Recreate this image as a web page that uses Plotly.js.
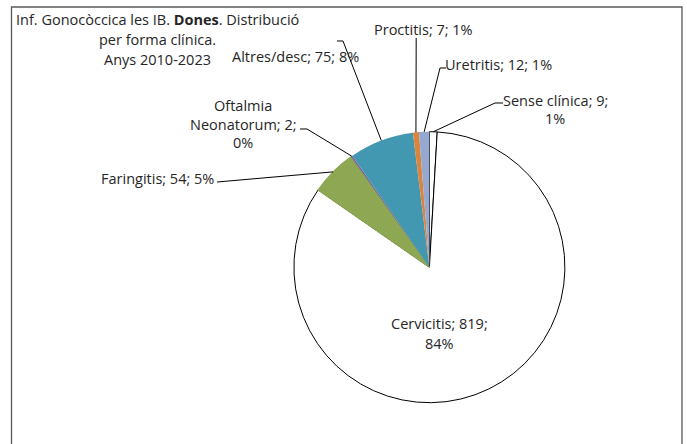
<!DOCTYPE html>
<html>
<head>
<meta charset="utf-8">
<script src="https://cdn.plot.ly/plotly-3.0.1.min.js"></script>
<style>
  html, body { margin: 0; padding: 0; background: #fff; }
  #chart { width: 687px; height: 444px; }
</style>
</head>
<body>
<div id="chart"></div>
<script>
// ---- Data ----
const categories = ['Sense clínica', 'Cervicitis', 'Faringitis', 'Oftalmia Neonatorum', 'Altres/desc', 'Proctitis', 'Uretritis'];
const counts = [9, 819, 54, 2, 75, 7, 12];
const percents = [1, 84, 5, 0, 8, 1, 1];
const titleLines = ['Inf. Gonocòccica les IB. <b>Dones</b>. Distribució', 'per forma clínica.', 'Anys 2010-2023'];

// ---- Styles / layout ----
const W = 687, H = 444;
const sliceColors = ['#ffffff', '#ffffff', '#8DA753', '#7F62A0', '#4298B0', '#DB843D', '#94A8D0'];
const lineColors = ['#000000', '#000000', '#8DA753', '#7F62A0', '#4298B0', '#DB843D', '#94A8D0'];
const lineWidths = [1, 1, 1.2, 0, 0, 0, 0];
const FONT = {family: 'Open Sans, Noto Sans, sans-serif', size: 14.5, color: '#262626'};

// pie geometry in pixels
const CX = 429.4, CY = 267.2, R = 135.5;

// label layout: token index where a new line starts, center x, first line y, line spacing
const labelSpec = [
  {breaks: [3], x: 555, y: 100, dy: 18.5, leader: [[503, 103], [495, 103]]},
  {breaks: [2], x: 439.5, y: 323.3, dy: 19.7, leader: null},
  {breaks: [], x: 157, y: 178, dy: 19, leader: [[217, 182]]},
  {breaks: [1, 3], x: 243, y: 105, dy: 19, leader: [[300, 129], [307, 129]]},
  {breaks: [], x: 295.5, y: 56.5, dy: 19, leader: [[337, 41], [343, 41]]},
  {breaks: [], x: 423.5, y: 29.5, dy: 19, leader: [[416.2, 38]]},
  {breaks: [], x: 498.5, y: 65, dy: 19, leader: [[446, 68], [440, 68]]}
];

const px = x => x / W;
const py = y => 1 - y / H;

const total = counts.reduce((a, b) => a + b, 0);

const annotations = [];
const shapes = [];

function addText(text, x, y) {
  annotations.push({
    text: text, xref: 'paper', yref: 'paper', x: px(x), y: py(y),
    xanchor: 'center', yanchor: 'middle', showarrow: false, font: FONT, align: 'center'
  });
}

// title lines
const titleY = [20, 40, 59.5];
titleLines.forEach((t, i) => addText(t, 157, titleY[i]));

// slice labels and leader lines
let cum = 0;
categories.forEach((cat, i) => {
  const mid = (cum + counts[i] / 2) / total * 2 * Math.PI;
  cum += counts[i];
  const ex = CX + R * Math.sin(mid);
  const ey = CY - R * Math.cos(mid);
  const tokens = (cat + '; ' + counts[i] + '; ' + percents[i] + '%').split(' ');
  const spec = labelSpec[i];
  const lines = [];
  let cur = [];
  tokens.forEach((tk, k) => {
    if (spec.breaks.includes(k) && cur.length) { lines.push(cur.join(' ')); cur = []; }
    cur.push(tk);
  });
  lines.push(cur.join(' '));
  lines.forEach((ln, k) => addText(ln, spec.x, spec.y + k * spec.dy));
  if (spec.leader) {
    const pts = spec.leader.concat([[ex, ey]]);
    const path = pts.map((p, k) => (k ? 'L' : 'M') + px(p[0]).toFixed(5) + ',' + py(p[1]).toFixed(5)).join(' ');
    shapes.push({type: 'path', xref: 'paper', yref: 'paper', path: path, line: {color: '#000000', width: 1}});
  }
});

// chart-area border (bottom edge lies outside the picture)
shapes.push({type: 'rect', xref: 'paper', yref: 'paper', x0: px(11.5), x1: px(682), y0: -0.02, y1: py(7),
  line: {color: '#595959', width: 1.3}, fillcolor: 'rgba(0,0,0,0)'});

const trace = {
  type: 'pie',
  labels: categories,
  values: counts,
  sort: false,
  direction: 'clockwise',
  rotation: 0,
  textinfo: 'none',
  hoverinfo: 'label+value+percent',
  marker: {colors: sliceColors, line: {color: lineColors, width: lineWidths}},
  domain: {x: [px(CX - R), px(CX + R)], y: [py(CY + R), py(CY - R)]},
  showlegend: false
};

const layout = {
  width: W, height: H,
  margin: {l: 0, r: 0, t: 0, b: 0},
  paper_bgcolor: '#ffffff',
  showlegend: false,
  annotations: annotations,
  shapes: shapes,
  font: FONT
};

Plotly.newPlot('chart', [trace], layout, {displayModeBar: false, staticPlot: true});
</script>
</body>
</html>
